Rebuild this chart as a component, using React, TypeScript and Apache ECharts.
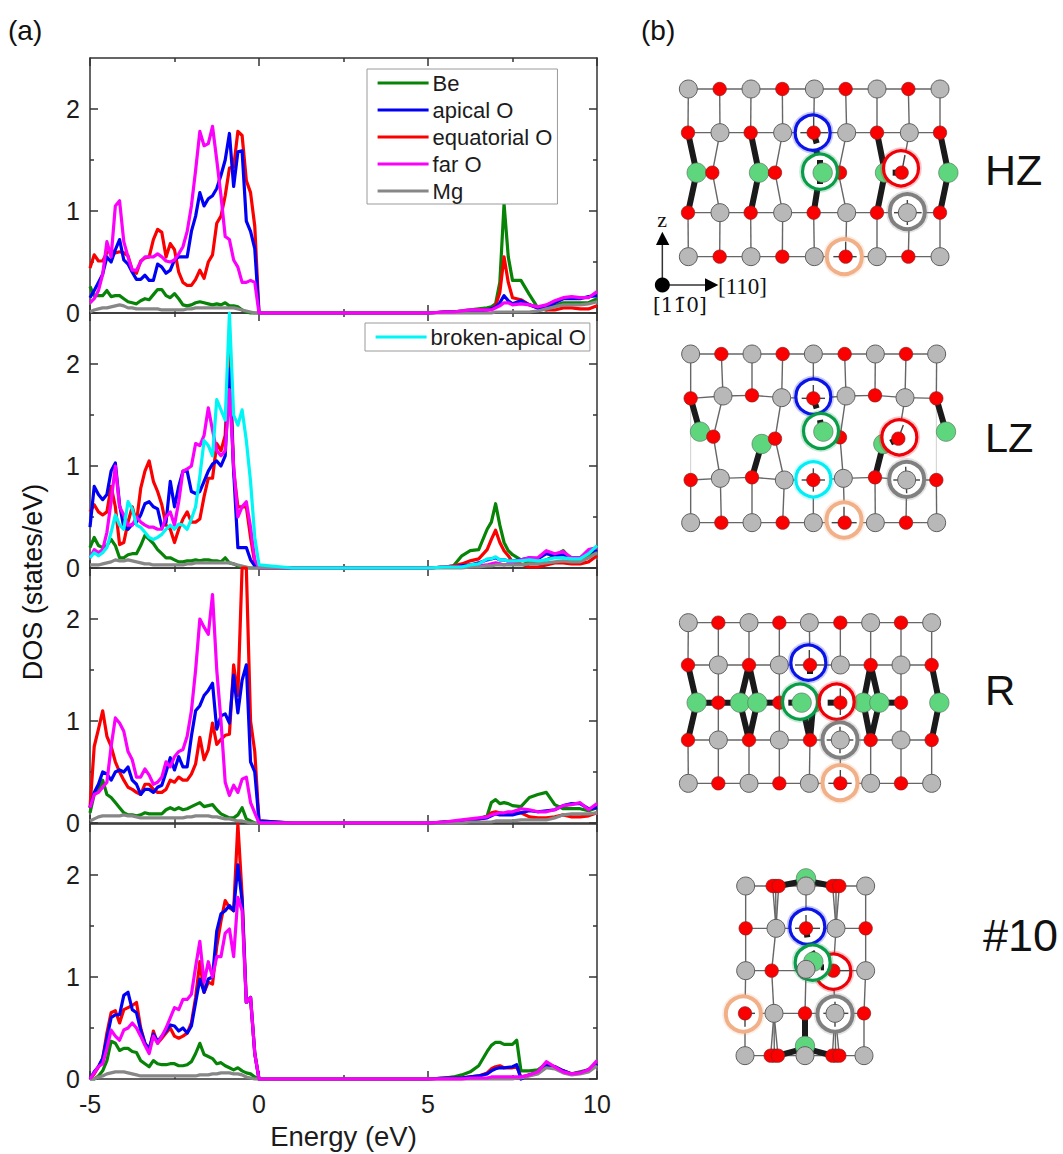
import React, { useEffect, useRef } from "react";
import * as echarts from "echarts";

// ---------- energies (eV) ----------
const valenceEnergy = [-5,-4.875,-4.75,-4.625,-4.5,-4.375,-4.25,-4.125,-4,-3.875,-3.75,-3.625,-3.5,-3.375,-3.25,-3.125,-3,-2.875,-2.75,-2.625,-2.5,-2.375,-2.25,-2.125,-2,-1.875,-1.75,-1.625,-1.5,-1.375,-1.25,-1.125,-1,-0.875,-0.75,-0.625,-0.5,-0.375,-0.25,-0.125,0];
const conductionEnergy = [1,3,5,5.5,5.75,6,6.25,6.5,6.75,6.875,7,7.125,7.25,7.375,7.5,7.75,8,8.25,8.5,8.75,9,9.25,9.5,9.75,10];
const conductionEnergyLast = [1,3,5,5.5,5.75,6,6.25,6.5,6.75,6.875,7,7.125,7.25,7.5,7.625,7.75,8,8.25,8.5,8.75,9,9.25,9.5,9.75,10];

// ---------- HZ ----------
const hzBeV = [.26,.17,.17,.17,.22,.16,.17,.17,.14,.11,.10,.09,.12,.14,.13,.18,.23,.23,.17,.15,.19,.14,.08,.07,.08,.10,.11,.10,.09,.08,.09,.08,.10,.07,.07,.06,.03,.01,0,0,0];
const hzApicalV = [.15,.22,.30,.38,.55,.50,.62,.72,.52,.48,.40,.33,.33,.37,.32,.32,.48,.45,.39,.42,.52,.55,.55,.55,.80,.95,1.18,1.05,1.12,1.15,1.22,1.35,1.50,1.76,1.24,1.58,1.59,.90,.80,.63,0];
const hzEquatV = [.44,.57,.51,.51,.59,.62,.59,.60,.59,.56,.42,.39,.51,.54,.55,.72,.82,.79,.55,.68,.62,.40,.30,.27,.27,.33,.42,.34,.50,.57,.88,.95,1.15,1.42,1.43,1.78,1.74,1.30,1.18,.85,0];
const hzFarV = [.10,.14,.22,.38,.70,.55,1.05,1.10,.70,.55,.42,.42,.50,.55,.55,.55,.58,.55,.51,.50,.52,.58,.65,.80,1.05,1.40,1.78,1.64,1.66,1.83,1.50,1.15,.75,.72,.52,.45,.30,.30,.32,.30,0];
const hzMgV = [.01,.03,.04,.05,.05,.06,.07,.08,.07,.05,.05,.04,.04,.04,.04,.04,.04,.03,.03,.03,.03,.03,.03,.04,.04,.05,.05,.05,.05,.05,.05,.05,.05,.05,.05,.04,.03,.02,.01,0,0];
const hzBeC = [0,0,0,.01,.01,.02,.03,.04,.05,.06,.09,.3,1.07,.55,.32,.32,.18,.05,.03,.07,.1,.1,.1,.1,.14];
const hzApicalC = [0,0,0,.01,.01,.01,.02,.02,.03,.04,.06,.1,.17,.12,.09,.12,.08,.05,.05,.1,.14,.14,.14,.16,.17];
const hzEquatC = [0,0,0,.01,.01,.01,.02,.03,.03,.04,.07,.2,.55,.3,.15,.13,.08,.05,.03,.03,.05,.05,.04,.04,.07];
const hzFarC = [0,0,0,.01,.01,.02,.03,.03,.03,.03,.05,.07,.1,.1,.08,.09,.08,.06,.08,.12,.15,.16,.15,.15,.21];
const hzMgC = [0,0,0,0,0,0,0,0,0,0,.01,.01,.01,.01,.01,.01,.01,.02,.04,.06,.08,.08,.08,.09,.11];

// ---------- LZ ----------
const lzBeV = [.2,.3,.22,.2,.22,.28,.22,.1,.1,.13,.14,.14,.22,.32,.28,.24,.18,.14,.1,.1,.08,.06,.06,.07,.07,.08,.07,.08,.08,.07,.07,.06,.1,.05,.04,.02,.01,0,0,0,0];
const lzApicalV = [.4,.8,.72,.67,.72,.95,1.03,.62,.4,.38,.43,.45,.52,.63,.65,.6,.58,.4,.45,.85,.6,.8,.95,.95,.75,.73,.75,.85,.95,1.02,1.05,1.0,1.1,1.95,.95,.2,.2,.2,.08,.02,0];
const lzEquatV = [.55,.62,.55,.52,.55,.80,.60,.23,.25,.45,.60,.45,.78,.95,1.05,.85,.75,.62,.42,.38,.25,.38,.48,.55,.45,.45,.48,.70,.88,.88,1.22,1.15,1.30,2.20,.95,.60,.60,.60,.30,.05,0];
const lzFarV = [.10,.18,.15,.18,.35,.65,1.00,.60,.52,.42,.42,.50,.45,.42,.40,.40,.38,.38,.50,.55,.42,.65,.95,.97,1.00,1.22,1.20,1.30,1.57,1.35,1.15,1.10,1.15,1.75,1.00,.50,.60,.65,.40,.08,0];
const lzMgV = [.03,.03,.03,.04,.05,.06,.08,.07,.07,.08,.07,.06,.05,.04,.04,.03,.03,.03,.03,.03,.03,.03,.03,.04,.04,.05,.05,.05,.05,.05,.05,.05,.05,.05,.04,.03,.02,.01,0,0,0];
const lzBrokenV = [.10,.15,.12,.15,.20,.35,.52,.42,.38,.65,.58,.42,.40,.35,.30,.28,.30,.33,.38,.42,.38,.43,.42,.38,.48,.60,.90,1.25,1.20,1.10,1.65,1.55,1.45,2.50,1.50,1.40,1.55,1.25,.85,.30,.03];
const lzBeC = [0,0,0,.01,.02,.12,.17,.18,.38,.45,.63,.42,.25,.17,.13,.08,.05,.05,.08,.12,.17,.08,.08,.12,.18];
const lzApicalC = [0,0,0,.01,.01,.02,.03,.05,.08,.09,.1,.08,.08,.07,.07,.08,.1,.09,.14,.12,.13,.1,.1,.15,.18];
const lzEquatC = [0,0,0,.01,.02,.04,.07,.09,.18,.28,.37,.25,.17,.12,.06,.04,.01,.01,.03,.05,.05,.04,.04,.06,.12];
const lzFarC = [0,0,0,.01,.01,.01,.01,.02,.03,.04,.05,.04,.03,.04,.06,.08,.1,.1,.17,.14,.16,.1,.1,.18,.2];
const lzMgC = [0,0,0,0,0,0,.01,.01,.02,.02,.03,.03,.03,.03,.03,.03,.04,.04,.05,.06,.07,.06,.06,.1,.15];
const lzBrokenC = [0,0,0,.01,.01,.01,.03,.04,.09,.09,.11,.08,.08,.07,.07,.07,.08,.07,.08,.1,.1,.09,.09,.14,.22];

// ---------- R ----------
const rBeV = [.10,.28,.32,.42,.28,.25,.20,.15,.10,.08,.08,.07,.08,.10,.09,.09,.09,.09,.13,.15,.13,.15,.13,.14,.16,.18,.20,.16,.17,.18,.13,.09,.07,.05,.05,.08,.15,.04,.02,0,0];
const rApicalV = [.15,.30,.38,.50,.48,.42,.50,.52,.50,.55,.42,.38,.28,.33,.33,.30,.35,.37,.50,.64,.52,.65,.55,.55,.85,1.10,1.15,1.25,1.30,1.37,.92,1.05,1.07,.98,1.45,1.08,1.40,1.55,.60,.50,.02];
const rEquatV = [.15,.75,.92,1.10,.85,.75,.60,.50,.42,.35,.33,.30,.28,.38,.38,.33,.30,.30,.33,.42,.40,.45,.42,.42,.48,.58,.84,.62,.72,.98,.77,.82,.86,.87,1.55,1.25,2.5,2.5,1.0,.70,.02];
const rFarV = [.15,.28,.30,.35,.40,.75,1.03,.98,.90,.70,.62,.45,.45,.53,.47,.38,.40,.45,.60,.55,.65,.70,.72,.85,1.10,1.50,2.00,1.92,1.85,2.24,1.50,1.00,.40,.27,.37,.30,.43,.45,.20,.10,0];
const rMgV = [.02,.04,.06,.07,.07,.07,.07,.07,.08,.07,.07,.06,.05,.05,.05,.05,.05,.05,.05,.05,.05,.05,.05,.06,.06,.07,.07,.07,.07,.06,.06,.05,.04,.04,.03,.02,.02,.01,0,0,0];
const rBeC = [0,0,0,.01,.01,.02,.03,.04,.07,.2,.23,.19,.2,.19,.17,.16,.25,.28,.3,.18,.14,.14,.14,.12,.15];
const rApicalC = [0,0,0,.01,.01,.02,.03,.04,.05,.07,.09,.08,.08,.08,.08,.1,.12,.11,.12,.13,.17,.19,.19,.14,.15];
const rEquatC = [0,0,0,.01,.01,.02,.03,.04,.06,.1,.11,.1,.09,.09,.1,.1,.06,.05,.05,.06,.08,.06,.06,.07,.1];
const rFarC = [0,0,0,.01,.02,.03,.04,.05,.06,.08,.09,.1,.1,.11,.11,.14,.13,.11,.11,.13,.17,.18,.2,.13,.19];
const rMgC = [0,0,0,0,0,0,.01,.01,.01,.01,.02,.02,.02,.02,.02,.03,.03,.03,.03,.05,.08,.09,.09,.09,.1];

// ---------- #10 ----------
const n10BeV = [0,0,.03,.08,.18,.37,.35,.28,.30,.30,.27,.26,.18,.15,.12,.18,.15,.14,.14,.15,.15,.13,.13,.14,.17,.25,.35,.24,.22,.20,.15,.16,.13,.11,.09,.11,.08,.06,.05,.02,0];
const n10ApicalV = [0,.07,.12,.20,.40,.60,.63,.63,.82,.85,.68,.65,.48,.35,.30,.44,.37,.42,.47,.53,.52,.47,.50,.45,.52,.75,.98,.85,.98,1.00,1.45,1.62,1.65,1.70,1.65,2.10,1.75,.75,.80,.25,0];
const n10EquatV = [0,.05,.12,.20,.45,.65,.67,.55,.68,.70,.72,.75,.50,.35,.27,.47,.35,.40,.45,.50,.42,.40,.42,.45,.55,.80,1.15,.85,.95,.93,1.30,1.55,1.75,1.68,1.65,2.5,1.80,.75,.80,.25,0];
const n10FarV = [0,.06,.12,.15,.30,.48,.42,.38,.48,.50,.55,.50,.42,.33,.25,.42,.35,.42,.50,.60,.70,.68,.78,.78,.83,1.10,1.35,.95,1.15,1.00,1.20,1.20,1.43,1.47,1.20,1.78,1.65,.75,.80,.25,0];
const n10MgV = [0,0,.02,.03,.05,.06,.07,.07,.07,.06,.05,.04,.03,.03,.03,.03,.03,.03,.03,.03,.03,.03,.03,.03,.03,.03,.04,.04,.04,.05,.05,.06,.06,.06,.05,.05,.04,.02,.01,0,0];
const n10BeC = [0,0,0,.01,.02,.04,.07,.13,.27,.33,.36,.36,.34,.34,.38,.08,.08,.09,.15,.12,.08,.05,.07,.09,.17];
const n10ApicalC = [0,0,0,.01,.01,.01,.02,.03,.05,.08,.1,.11,.11,.12,.14,0,.04,.06,.13,.12,.08,.05,.06,.09,.15];
const n10EquatC = [0,0,0,.01,.01,.01,.02,.03,.06,.1,.12,.13,.11,.11,.12,.02,.04,.06,.14,.12,.08,.05,.06,.09,.15];
const n10FarC = [0,0,0,0,0,0,.01,.01,.01,.02,.02,.02,.02,.02,.02,.02,.04,.07,.17,.12,.07,.05,.06,.09,.18];
const n10MgC = [0,0,0,0,0,0,0,0,0,0,0,0,0,0,.01,.01,.03,.05,.11,.1,.06,.04,.05,.07,.13];

const xMajor = [-5, 0, 5, 10];
const xMinor = [-2.5, 2.5, 7.5];
const yMajor = [0, 1, 2];
const yMinor = [0.5, 1.5];
const legendMain = ["Be", "apical O", "equatorial O", "far O", "Mg"];
const legendBroken = ["broken-apical O"];

const COLORS: Record<string, string> = {
  Be: "#078407", "apical O": "#0000f5", "equatorial O": "#fb0000", "far O": "#fb00fb", Mg: "#878787", "broken-apical O": "#00f5f5",
};

const FONT = '"Liberation Sans", Arial, sans-serif';
const INK = "#1c1c1c";
const FRAME = "#333";
const gridTops = [58, 313, 568, 824];
const GRID = { left: 90, width: 507, height: 255 };

function pair(es: number[], ys: number[]) { return es.map((e, i) => [e, ys[i]]); }
function curve(name: string, panel: number, v: number[], c: number[], cE: number[]) {
  return {
    type: "line", name, xAxisIndex: panel * 4, yAxisIndex: panel * 4, symbol: "none", showSymbol: false, silent: true, clip: false,
    lineStyle: { color: COLORS[name], width: 3.2, join: "round" }, itemStyle: { color: COLORS[name] },
    data: [...pair(valenceEnergy, v), ...pair(cE, c)],
  };
}

const series = [
  curve("Be", 0, hzBeV, hzBeC, conductionEnergy), curve("equatorial O", 0, hzEquatV, hzEquatC, conductionEnergy), curve("apical O", 0, hzApicalV, hzApicalC, conductionEnergy), curve("Mg", 0, hzMgV, hzMgC, conductionEnergy), curve("far O", 0, hzFarV, hzFarC, conductionEnergy),
  curve("Be", 1, lzBeV, lzBeC, conductionEnergy), curve("equatorial O", 1, lzEquatV, lzEquatC, conductionEnergy), curve("apical O", 1, lzApicalV, lzApicalC, conductionEnergy), curve("far O", 1, lzFarV, lzFarC, conductionEnergy), curve("Mg", 1, lzMgV, lzMgC, conductionEnergy), curve("broken-apical O", 1, lzBrokenV, lzBrokenC, conductionEnergy),
  curve("Be", 2, rBeV, rBeC, conductionEnergy), curve("equatorial O", 2, rEquatV, rEquatC, conductionEnergy), curve("apical O", 2, rApicalV, rApicalC, conductionEnergy), curve("Mg", 2, rMgV, rMgC, conductionEnergy), curve("far O", 2, rFarV, rFarC, conductionEnergy),
  curve("Be", 3, n10BeV, n10BeC, conductionEnergyLast), curve("equatorial O", 3, n10EquatV, n10EquatC, conductionEnergyLast), curve("apical O", 3, n10ApicalV, n10ApicalC, conductionEnergyLast), curve("Mg", 3, n10MgV, n10MgC, conductionEnergyLast), curve("far O", 3, n10FarV, n10FarC, conductionEnergyLast),
];

const line = { color: FRAME, width: 1.5 };
const axesX: any[] = [];
const axesY: any[] = [];
gridTops.forEach((_, i) => {
  (["bottom", "top"] as const).forEach((position) => {
    const isLabelled = i === 3 && position === "bottom";
    axesX.push({
      type: "value", gridIndex: i, position, min: -5, max: 10, interval: 5, splitLine: { show: false },
      axisLine: { show: true, onZero: false, lineStyle: line },
      axisTick: { show: true, inside: true, length: 8, customValues: xMajor, lineStyle: line },
      axisLabel: { show: isLabelled, customValues: xMajor, fontSize: 25, margin: 12, color: INK, fontFamily: FONT, hideOverlap: false },
      ...(isLabelled ? { name: "Energy (eV)", nameLocation: "middle", nameGap: 43, nameTextStyle: { fontSize: 27.5, color: INK, fontFamily: FONT } } : {}),
    });
    axesX.push({
      type: "value", gridIndex: i, position, min: -5, max: 10, interval: 5, splitLine: { show: false },
      axisLine: { show: false, onZero: false },
      axisTick: { show: true, inside: true, length: 4, customValues: xMinor, lineStyle: line },
      axisLabel: { show: false },
    });
  });
  (["left", "right"] as const).forEach((position) => {
    axesY.push({
      type: "value", gridIndex: i, position, min: 0, max: 2.5, interval: 0.5, splitLine: { show: false },
      axisLine: { show: true, onZero: false, lineStyle: line },
      axisTick: { show: true, inside: true, length: 8, customValues: yMajor, lineStyle: line },
      axisLabel: { show: position === "left", customValues: yMajor, fontSize: 25, margin: 10, color: INK, fontFamily: FONT, hideOverlap: false },
    });
    axesY.push({
      type: "value", gridIndex: i, position, min: 0, max: 2.5, interval: 0.5, splitLine: { show: false },
      axisLine: { show: false, onZero: false },
      axisTick: { show: true, inside: true, length: 4, customValues: yMinor, lineStyle: line },
      axisLabel: { show: false },
    });
  });
});

// ---------- panel (b): schematic crystal structures (drawn in the crop's 3x units) ----------
type Ring = { at: number[]; c: string; w?: number; thin?: number[][]; thick?: number[][]; atoms?: (string | number)[][] };
type Structure = {
  ox: number; oy: number;
  rows: { first: string; pts: number[][] }[];
  links: number[][];
  thin: number[][];
  faint?: number[][];
  thick: number[][];
  green: number[][];
  red: number[][];
  rings: Ring[];
};
const BLUE = "#0a14e6", GREEN = "#0a9c48", RED = "#ee0008", GRAY = "#808080", PEACH = "#f2b088", CYAN = "#00eef6";
const xy = (y: number, xs: number[]) => xs.map((x) => [x, y]);

const structHZ: Structure = {
  ox: 620, oy: 60,
  rows: [
    { first: "g", pts: xy(87, [205, 299, 393, 487, 583, 677, 771, 865, 960]) },
    { first: "r", pts: xy(218, [204, 300, 392, 488, 581, 680, 771, 868, 960]) },
    { first: "r", pts: xy(458, [204, 300, 392, 488, 581, 680, 771, 868, 960]) },
    { first: "g", pts: xy(590, [205, 299, 393, 487, 583, 677, 771, 865, 960]) },
  ],
  links: [[0, 1], [2, 3]],
  thin: [[300, 218, 277, 338, 300, 458], [488, 218, 465, 338, 488, 458], [680, 218, 655, 338, 680, 458], [868, 218, 845, 338]],
  thick: [[204, 218, 230, 338, 204, 458], [392, 218, 417, 338, 392, 458], [581, 218, 600, 338, 581, 458], [771, 218, 795, 338, 771, 458], [960, 218, 985, 338, 960, 458], [230, 338, 277, 338], [417, 338, 465, 338]],
  green: [[230, 338], [417, 338], [795, 338], [985, 338]],
  red: [[277, 338], [465, 338], [660, 338]],
  rings: [
    { at: [578, 218], c: BLUE, thin: [[541, 218, 625, 218], [581, 170, 581, 205]], thick: [[581, 218, 590, 250]], atoms: [["r", 581, 218]] },
    { at: [600, 335], c: GREEN, thick: [[600, 300, 600, 372]], atoms: [["G", 608, 338]] },
    { at: [843, 325], c: RED, thin: [[845, 338, 855, 285]], thick: [[818, 338, 845, 338]], atoms: [["r", 845, 338]] },
    { at: [862, 455], c: GRAY, w: 4, thin: [[822, 458, 905, 458], [862, 420, 862, 495]], atoms: [["g", 862, 458]] },
    { at: [673, 590], c: PEACH, w: 4, thin: [[640, 590, 710, 590], [677, 545, 677, 590]], atoms: [["r", 677, 590]] },
  ],
};

const structLZ: Structure = {
  ox: 640, oy: 330,
  rows: [
    { first: "g", pts: xy(72, [152, 244, 336, 428, 520, 614, 706, 798, 890]) },
    { first: "r", pts: [[152, 205], [249, 198], [336, 196], [425, 203], [520, 205], [618, 198], [705, 196], [795, 203], [889, 205]] },
    { first: "r", pts: [[152, 450], [241, 445], [336, 442], [433, 450], [520, 450], [610, 445], [705, 442], [800, 450], [889, 450]] },
    { first: "g", pts: xy(578, [152, 244, 336, 428, 520, 614, 706, 798, 890]) },
  ],
  links: [[0, 1], [2, 3]],
  thin: [[249, 198, 220, 320, 241, 445], [425, 203, 405, 326, 433, 450], [618, 198, 600, 322, 610, 445], [795, 203, 775, 326]],
  faint: [[152, 205, 152, 450], [889, 205, 889, 450]],
  thick: [[152, 205, 180, 305, 220, 320], [336, 442, 365, 342, 405, 326], [705, 442, 730, 342, 775, 326], [889, 205, 918, 305]],
  green: [[180, 305], [365, 342], [730, 342], [918, 305]],
  red: [[220, 320], [405, 326], [600, 322]],
  rings: [
    { at: [520, 200], c: BLUE, thin: [[485, 205, 555, 205], [520, 165, 520, 205]], thick: [[520, 205, 530, 235]], atoms: [["r", 520, 205]] },
    { at: [543, 303], c: GREEN, thick: [[540, 270, 545, 300]], atoms: [["G", 550, 305]] },
    { at: [778, 322], c: RED, thin: [[775, 326, 790, 285]], thick: [[752, 338, 775, 326]], atoms: [["r", 775, 326]] },
    { at: [520, 448], c: CYAN, thin: [[485, 450, 555, 450], [520, 415, 520, 485]], atoms: [["r", 520, 450]] },
    { at: [800, 448], c: GRAY, w: 4, thin: [[760, 450, 840, 450], [797, 410, 800, 490]], atoms: [["g", 800, 450]] },
    { at: [612, 570], c: PEACH, w: 4, thin: [[575, 578, 650, 578], [612, 530, 612, 578]], atoms: [["r", 614, 578]] },
  ],
};

const structR: Structure = {
  ox: 660, oy: 600,
  rows: [
    { first: "g", pts: xy(68, [85, 175, 267, 358, 448, 541, 632, 723, 815]) },
    { first: "r", pts: xy(195, [84, 175, 267, 358, 450, 541, 632, 723, 815]) },
    { first: "r", pts: xy(420, [84, 175, 267, 358, 450, 541, 632, 723, 815]) },
    { first: "g", pts: xy(550, [85, 175, 267, 358, 448, 541, 632, 723, 815]) },
  ],
  links: [[0, 1], [2, 3]],
  thin: [[175, 195, 175, 420], [358, 195, 358, 420], [723, 195, 723, 420]],
  thick: [[84, 195, 110, 308, 84, 420], [267, 195, 240, 308, 267, 420], [267, 195, 292, 308, 267, 420], [450, 420, 425, 308], [450, 420, 460, 308], [632, 195, 610, 308, 632, 420], [632, 195, 658, 308, 632, 420], [815, 195, 838, 308, 815, 420], [110, 308, 240, 308], [292, 308, 358, 308], [658, 308, 723, 308]],
  green: [[110, 308], [240, 308], [292, 308], [460, 308], [610, 308], [658, 308], [838, 308]],
  red: [[175, 308], [358, 308], [723, 308]],
  rings: [
    { at: [445, 188], c: BLUE, thin: [[405, 195, 495, 195], [448, 150, 448, 195]], thick: [[450, 195, 450, 222]], atoms: [["r", 450, 195]] },
    { at: [420, 305], c: GREEN, thick: [[385, 308, 425, 308]], atoms: [["G", 425, 308]] },
    { at: [530, 305], c: RED, thin: [[541, 265, 541, 345]], thick: [[503, 308, 541, 308]], atoms: [["r", 541, 308]] },
    { at: [540, 420], c: GRAY, w: 4, thin: [[500, 420, 580, 420], [540, 380, 540, 460]], atoms: [["g", 541, 420]] },
    { at: [540, 548], c: PEACH, w: 4, thin: [[505, 550, 575, 550], [541, 510, 541, 550]], atoms: [["r", 541, 550]] },
  ],
};

const struct10: Structure = {
  ox: 700, oy: 860,
  rows: [
    { first: "g", pts: [[137, 78], [227, 78], [318, 78], [408, 78], [497, 78]] },
    { first: "r", pts: [[137, 205], [228, 205], [318, 205], [408, 205], [497, 205]] },
    { first: "g", pts: [[137, 332], [215, 332], [318, 332], [400, 332], [497, 332]] },
    { first: "r", pts: [[135, 460], [222, 460], [315, 460], [405, 460], [492, 460]] },
    { first: "g", pts: [[135, 587], [223, 587], [315, 587], [407, 587], [492, 587]] },
  ],
  links: [[0, 1], [1, 2], [2, 3], [3, 4]],
  thin: [[218, 78, 228, 205], [236, 78, 228, 205], [398, 78, 408, 205], [418, 78, 408, 205], [212, 587, 222, 460], [234, 587, 222, 460], [397, 587, 405, 460], [418, 587, 405, 460]],
  thick: [[236, 78, 318, 62, 398, 78], [234, 587, 315, 565, 397, 587], [315, 460, 315, 555]],
  green: [[318, 55], [315, 558]],
  red: [[218, 78], [236, 78], [398, 78], [418, 78], [212, 587], [234, 587], [397, 587], [418, 587]],
  rings: [
    { at: [322, 200], c: BLUE, thin: [[285, 205, 360, 205], [318, 165, 318, 205]], thick: [[318, 205, 322, 232]], atoms: [["r", 318, 205]] },
    { at: [400, 335], c: RED, thin: [[400, 332, 450, 332]], atoms: [["r", 400, 332]] },
    { at: [338, 308], c: GREEN, thick: [[335, 275, 350, 300], [362, 322, 372, 322]], atoms: [["G", 340, 305], ["g", 318, 328]] },
    { at: [405, 462], c: GRAY, w: 4, thin: [[370, 460, 445, 460], [405, 425, 405, 500]], atoms: [["g", 405, 460]] },
    { at: [130, 462], c: PEACH, w: 4, thin: [[130, 460, 165, 460], [135, 500, 135, 460]], atoms: [["r", 135, 460]] },
  ],
};

function atom(kind: string, x: number, y: number, o: number[]) {
  const cx = o[0] + x / 3, cy = o[1] + y / 3;
  const st = kind === "g" ? { r: 9, fill: "#b8b8b8", stroke: "#5f5f5f", lw: 1 }
    : kind === "r" ? { r: 6.7, fill: "#fb0000", stroke: "#8c2020", lw: 0.7 }
    : { r: 9.7, fill: "#5ed67e", stroke: "#5a7a62", lw: 0.7 };
  return { type: "circle", silent: true, shape: { cx, cy, r: st.r }, style: { fill: st.fill, stroke: st.stroke, lineWidth: st.lw } };
}
function poly(p: number[], o: number[], stroke: string, lw: number) {
  const points: number[][] = [];
  for (let i = 0; i < p.length; i += 2) points.push([o[0] + p[i] / 3, o[1] + p[i + 1] / 3]);
  return { type: "polyline", silent: true, shape: { points }, style: { stroke, lineWidth: lw, fill: "none", lineJoin: "round" } };
}
const THIN = "#666", THICK = "#1a1a1a";
function drawStructure(s: Structure) {
  const o = [s.ox, s.oy];
  const out: any[] = [];
  (s.faint || []).forEach((p) => out.push(poly(p, o, "#cfcfcf", 1)));
  s.rows.forEach((r) => out.push(poly(r.pts.flat(), o, THIN, 1.4)));
  s.links.forEach(([a, b]) => s.rows[a].pts.forEach((p, i) => out.push(poly([...p, ...s.rows[b].pts[i]], o, THIN, 1.4))));
  s.thin.forEach((p) => out.push(poly(p, o, THIN, 1.4)));
  s.thick.forEach((p) => out.push(poly(p, o, THICK, 6)));
  s.green.forEach(([x, y]) => out.push(atom("G", x, y, o)));
  s.rows.forEach((r) => r.pts.forEach(([x, y], i) => {
    const other = r.first === "g" ? "r" : "g";
    out.push(atom(i % 2 === 0 ? r.first : other, x, y, o));
  }));
  s.red.forEach(([x, y]) => out.push(atom("r", x, y, o)));
  s.rings.forEach((g) => {
    const cx = o[0] + g.at[0] / 3, cy = o[1] + g.at[1] / 3;
    const w = g.w || 3.2;
    out.push({ type: "circle", silent: true, shape: { cx, cy, r: 17.5 }, style: { fill: "#fff", stroke: g.c, lineWidth: w + 3.5, opacity: 0.22 } });
    out.push({ type: "circle", silent: true, shape: { cx, cy, r: 17.5 }, style: { fill: "#fff", stroke: g.c, lineWidth: w } });
    (g.thin || []).forEach((p) => out.push(poly(p, o, "#444", 1.4)));
    (g.thick || []).forEach((p) => out.push(poly(p, o, THICK, 6)));
    (g.atoms || []).forEach((a) => out.push(atom(a[0] as string, a[1] as number, a[2] as number, o)));
  });
  return out;
}

function text(t: string, x: number, y: number, fontSize: number, extra: any = {}) {
  return { type: "text", silent: true, x, y, style: { text: t, fontSize, fontFamily: FONT, fill: "#111", align: "left", verticalAlign: "middle", ...extra } };
}

const axisKey = (() => {
  const o = [620, 60];
  const p = (x: number, y: number) => [o[0] + x / 3, o[1] + y / 3];
  return [
    poly([127, 675, 127, 550], o, "#333", 1.5),
    poly([127, 675, 258, 675], o, "#333", 1.5),
    { type: "polygon", silent: true, shape: { points: [p(127, 515), p(108, 555), p(148, 555)] }, style: { fill: "#000" } },
    { type: "polygon", silent: true, shape: { points: [p(295, 675), p(255, 655), p(255, 695)] }, style: { fill: "#000" } },
    { type: "circle", silent: true, shape: { cx: p(127, 675)[0], cy: p(127, 675)[1], r: 7.5 }, style: { fill: "#000" } },
    text("z", 662, 219, 22, { align: "center", fontFamily: '"Liberation Serif", serif' }),
    text("[110]", 718, 286, 23, { fontFamily: '"Liberation Serif", serif' }),
    text("[1\u0031\u03040]", 653, 305, 23, { fontFamily: '"DejaVu Serif", serif', fontSize: 20 }),
  ];
})();

const option: any = {
  animation: false,
  backgroundColor: "#fff",
  textStyle: { fontFamily: FONT },
  grid: gridTops.map((top) => ({ ...GRID, top, show: false, containLabel: false })),
  xAxis: axesX,
  yAxis: axesY,
  legend: [
    {
      left: 367, top: 69, orient: "vertical", data: legendMain, selectedMode: false, itemWidth: 51, itemHeight: 1, itemGap: 5,
      padding: [3, 5, 2, 9], backgroundColor: "#fff", borderColor: "#9a9a9a", borderWidth: 1, borderRadius: 0, z: 20,
      lineStyle: { width: 3.2 },
      textStyle: { fontSize: 22, color: INK, fontFamily: FONT, padding: [0, 0, 0, -1] },
    },
    {
      left: 365, top: 323, orient: "vertical", data: legendBroken, selectedMode: false, itemWidth: 51, itemHeight: 1,
      padding: [3, 4, 3, 9], backgroundColor: "#fff", borderColor: "#9a9a9a", borderWidth: 1, borderRadius: 0, z: 20,
      lineStyle: { width: 3.2 },
      textStyle: { fontSize: 22, color: INK, fontFamily: FONT, padding: [0, 0, 0, -1] },
    },
  ],
  series,
  graphic: { elements: [
    text("(a)", 8, 30, 28),
    text("(b)", 641, 30, 28),
    { ...text("DOS (states/eV)", 33, 582, 27, { align: "center" }), rotation: Math.PI / 2 },
    text("HZ", 985, 170, 43),
    text("LZ", 985, 437, 41.5),
    text("R", 985, 690, 42),
    text("#10", 983, 935, 45),
    ...axisKey,
    ...drawStructure(structHZ),
    ...drawStructure(structLZ),
    ...drawStructure(structR),
    ...drawStructure(struct10),
  ] },
};

export default function App() {
  const ref = useRef<HTMLDivElement>(null);
  useEffect(() => {
    const chart = echarts.init(ref.current!, undefined, { renderer: "svg" });
    chart.setOption(option);
    return () => chart.dispose();
  }, []);
  return <div ref={ref} style={{ position: "absolute", left: 0, top: 0, width: 1063, height: 1154, background: "#fff" }} />;
}
